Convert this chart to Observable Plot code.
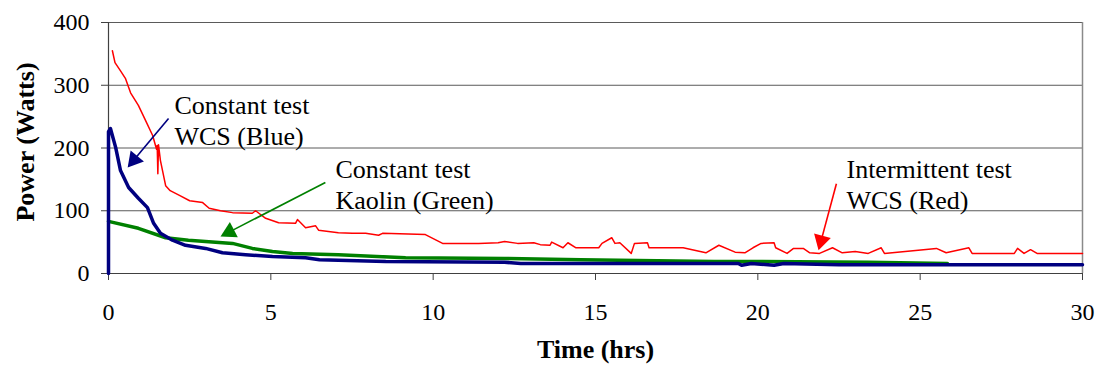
<!DOCTYPE html>
<html>
<head>
<meta charset="utf-8">
<script src="https://cdn.jsdelivr.net/npm/d3@7"></script>
<script src="https://cdn.jsdelivr.net/npm/@observablehq/plot@0.6"></script>
<style>
  html, body { margin: 0; padding: 0; background: #fff; }
  #chart svg { display: block; font-family: "Liberation Serif", "Times New Roman", serif !important; }
  #chart svg text { font-family: "Liberation Serif", "Times New Roman", serif !important; }
</style>
</head>
<body>
<div id="chart"></div>
<script>
// ---------- data ----------
const redHours = [0.12,0.2,0.37,0.52,0.68,0.92,1.14,1.36,1.48,1.5,1.52,1.54,1.6,1.76,1.9,2.2,2.5,2.9,3.1,3.45,3.82,4.43,4.53,4.84,5.24,5.76,5.82,6.07,6.38,6.47,7.08,7.51,7.92,8.32,8.44,9.76,10.29,11.4,12.0,12.2,12.6,13.1,13.3,13.6,13.65,14.0,14.15,14.4,15.1,15.2,15.5,15.6,15.75,16.1,16.2,16.6,16.65,17.7,18.4,18.8,19.3,19.6,19.85,20.1,20.5,20.55,20.9,21.1,21.4,21.6,21.9,22.3,22.6,23.0,23.4,23.8,23.9,25.5,25.8,26.5,26.6,27.9,28.0,28.2,28.4,28.6,29.2,30];
const redPower = [355,336,323,311,288,268,244,220,198,204,159,205,180,140,132,124,116,113,104,100,97,96,100,88,81,80,86,73,76,69,65,64,64,61,64,62,48,48,49,51,48,49,46,45,50,41,49,41,41,48,57,48,49,32,48,49,41,41,33,45,34,33,41,48,49,41,32,40,40,33,32,41,33,35,32,41,32,40,33,41,32,32,40,32,38,32,32,32];

const blueHours = [0,0,0.06,0.22,0.37,0.62,0.92,1.2,1.39,1.6,1.97,2.37,2.99,3.51,4.22,5.05,6.07,6.5,8.54,12.2,12.7,19.4,19.5,19.8,20.5,20.8,22.5,30];
const bluePower = [0,226,231,201,164,137,120,105,80,64,53,45,40,33,30,27,25,22,19,18,16,16,13,16,13,16,14,14];

const greenHours = [0,0.92,1.76,2.46,3.51,3.82,4.43,5.05,5.67,7.08,9.15,12.2,14.55,18.65,20.1,23.4,25.84];
const greenPower = [83,72,57,53,49,48,40,35,32,30,25,24,22,19,19,18,16];

const xTicks = [0,5,10,15,20,25,30];
const yTicks = [0,100,200,300,400];
const gridTicks = [100,200,300,400];

// annotations: text lines and arrows (start -> tip), in data units
const noteText = ["Constant test","WCS (Blue)","Constant test","Kaolin (Green)","Intermittent test","WCS (Red)"];
const noteHours = [2.03,2.03,6.99,6.99,22.73,22.73];
const notePower = [267,218,165,116,165,116];

const arrowColor = ["#000080","#008000","#ff0000"];
const arrowFromH = [1.85,6.68,22.42];
const arrowFromP = [247,145,143];
const arrowToH = [0.59,3.45,21.87];
const arrowToP = [169,59,37];

// ---------- tables ----------
const red = redHours.map((h,i)=>({h, p: redPower[i]}));
const blue = blueHours.map((h,i)=>({h, p: bluePower[i]}));
const green = greenHours.map((h,i)=>({h, p: greenPower[i]}));
const notes = noteText.map((t,i)=>({t, h: noteHours[i], p: notePower[i]}));

// layout
const W = 1096, H = 371, mL = 108, mR = 14, mT = 22, mB = 98;
const xDom = [0,30], yDom = [0,400];
const kx = (W - mL - mR) / (xDom[1]-xDom[0]);   // px per hour
const ky = (H - mT - mB) / (yDom[1]-yDom[0]);   // px per watt

// arrow heads: filled triangles, tip at arrow end
const headLen = 15;
const yy = headLen / 3;
const symSize = yy*yy*3*Math.sqrt(3);
const headR = Math.sqrt(symSize/Math.PI);
const arrows = arrowColor.map((c,i)=>{
  const dxp = (arrowToH[i]-arrowFromH[i])*kx;
  const dyp = -(arrowToP[i]-arrowFromP[i])*ky;
  const len = Math.hypot(dxp,dyp);
  const ux = dxp/len, uy = dyp/len;
  const back = 2*yy;
  return {
    c,
    h1: arrowFromH[i], p1: arrowFromP[i],
    h2: arrowToH[i] - ux*back*0.9/kx, p2: arrowToP[i] + uy*back*0.9/ky,
    hc: arrowToH[i] - ux*back/kx, pc: arrowToP[i] + uy*back/ky,
    rot: Math.atan2(dxp, -dyp)*180/Math.PI
  };
});

const serif = "Liberation Serif";
const chart = Plot.plot({
  width: W, height: H,
  marginLeft: mL, marginRight: mR, marginTop: mT, marginBottom: mB,
  x: {domain: xDom},
  y: {domain: yDom},
  style: {fontFamily: serif, fontSize: "24px", background: "#fff", color: "#000"},
  marks: [
    Plot.gridY(gridTicks, {stroke: "#5a5a5a", strokeOpacity: 1, strokeWidth: 1}),
    Plot.ruleX([30], {stroke: "#8a8a8a", strokeWidth: 1.5}),
    Plot.ruleY([0], {stroke: "#404040", strokeWidth: 1.2}),
    Plot.ruleX([0], {stroke: "#404040", strokeWidth: 1.2}),
    Plot.axisX({ticks: xTicks, tickSize: 7, tickPadding: 22, label: null, stroke: "#404040", fontSize: 24, fontFamily: serif}),
    Plot.axisY({ticks: yTicks, tickSize: 7, tickPadding: 12, label: null, stroke: "#404040", fontSize: 24, fontFamily: serif}),
    Plot.line(green, {x: "h", y: "p", stroke: "#008000", strokeWidth: 3.5, curve: "linear"}),
    Plot.line(blue, {x: "h", y: "p", stroke: "#000080", strokeWidth: 3.5, curve: "linear"}),
    Plot.line(red, {x: "h", y: "p", stroke: "#ff0000", strokeWidth: 1.5, curve: "linear"}),
    Plot.link(arrows, {x1: "h1", y1: "p1", x2: "h2", y2: "p2", stroke: "c", strokeWidth: 1.6}),
    Plot.dot(arrows, {x: "hc", y: "pc", symbol: "triangle", r: headR, fill: "c", stroke: "none", rotate: "rot"}),
    Plot.text(notes, {x: "h", y: "p", text: "t", textAnchor: "start", fontSize: 26, fontFamily: serif, fill: "#000"}),
    Plot.text(["Time (hrs)"], {frameAnchor: "bottom", dy: 84, fontSize: 26, fontWeight: "bold", fontFamily: serif, fill: "#000"}),
    Plot.text(["Power (Watts)"], {frameAnchor: "left", textAnchor: "middle", dx: -83, dy: -6, rotate: -90, fontSize: 26, fontWeight: "bold", fontFamily: serif, fill: "#000"})
  ]
});
document.getElementById("chart").appendChild(chart);
</script>
</body>
</html>
